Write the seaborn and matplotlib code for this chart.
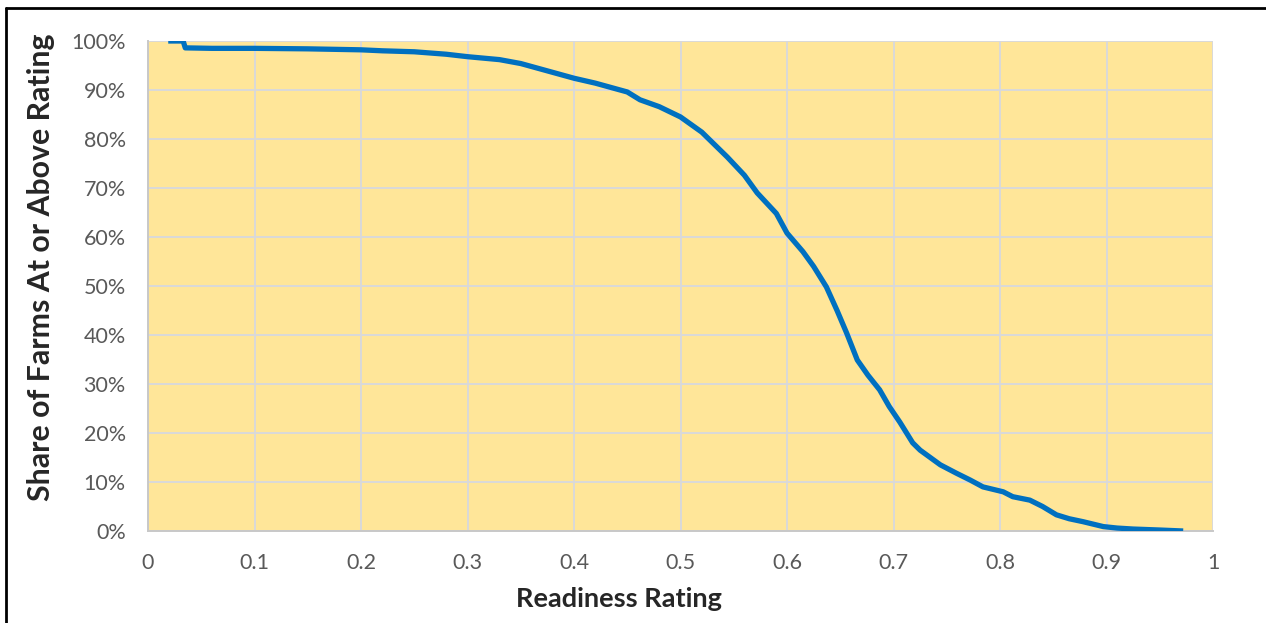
import numpy as np
import pandas as pd
import matplotlib
matplotlib.use("Agg")
import matplotlib.pyplot as plt
import seaborn as sns
from matplotlib.ticker import PercentFormatter, MultipleLocator

# readiness rating vs share of farms at or above it
rating = [0.019, 0.033, 0.035, 0.06, 0.1, 0.15, 0.2, 0.22, 0.25, 0.28, 0.3,
          0.33, 0.35, 0.37, 0.4, 0.42, 0.45, 0.462, 0.48, 0.5, 0.52, 0.544,
          0.56, 0.572, 0.59, 0.6, 0.615, 0.625, 0.637, 0.647, 0.656, 0.666,
          0.676, 0.687, 0.696, 0.706, 0.718, 0.725, 0.744, 0.759, 0.772,
          0.784, 0.803, 0.812, 0.828, 0.84, 0.853, 0.865, 0.878, 0.897,
          0.91, 0.925, 0.95, 0.972]
share = [100.0, 100.0, 98.6, 98.5, 98.5, 98.4, 98.2, 98.0, 97.8, 97.3, 96.8,
         96.2, 95.4, 94.2, 92.4, 91.4, 89.6, 88.0, 86.6, 84.5, 81.4, 76.3,
         72.6, 69.0, 64.8, 60.8, 57.0, 54.0, 49.8, 45.0, 40.4, 34.9, 31.8,
         28.8, 25.4, 22.2, 18.0, 16.5, 13.5, 11.8, 10.4, 9.0, 8.0, 7.0, 6.3,
         5.0, 3.3, 2.5, 1.9, 0.9, 0.6, 0.4, 0.2, 0.0]

df = pd.DataFrame({"rating": rating, "share": share})

sns.set_theme(style="white")
plt.rcParams['font.family'] = ['Lato', 'DejaVu Sans']

fig = plt.figure(figsize=(12.66, 6.23), dpi=100)
ax = fig.add_axes([148/1266, 92/623, 1065/1266, 490/623])
ax.set_facecolor("#FFE699")

sns.lineplot(data=df, x="rating", y="share", ax=ax, color="#0070C0",
             linewidth=3.8, solid_capstyle="butt", zorder=3)

ax.set_xlim(0, 1)
ax.set_ylim(0, 100)
ax.yaxis.set_major_locator(MultipleLocator(10))
ax.yaxis.set_major_formatter(PercentFormatter(decimals=0))
ax.set_xticks(np.arange(0, 1.01, 0.1))
ax.set_xticklabels(["0", "0.1", "0.2", "0.3", "0.4", "0.5", "0.6", "0.7",
                    "0.8", "0.9", "1"])
ax.grid(True, color="#D9D9D9", linewidth=1.4, zorder=1)
ax.set_axisbelow(True)
for s in ["top", "right"]:
    ax.spines[s].set_visible(False)
for s in ["left", "bottom"]:
    ax.spines[s].set_color("#C8C8C8")
    ax.spines[s].set_linewidth(1.4)
ax.tick_params(axis="both", length=0, labelsize=15.5, labelcolor="#595959")
ax.tick_params(axis="x", pad=16)
ax.tick_params(axis="y", pad=16)

ax.set_xlabel("Readiness Rating", fontsize=19.5, fontweight="bold",
              labelpad=10, x=0.442)
ax.set_ylabel("Share of Farms At or Above Rating", fontsize=21.8,
              fontweight="bold", labelpad=12, y=0.539)

# chart frame, only top and left edges show in the crop
fig.add_artist(plt.Line2D([6/1266, 6/1266], [0, 1 - 8/623], color="black",
                          linewidth=2, transform=fig.transFigure))
fig.add_artist(plt.Line2D([6/1266, 1], [1 - 8/623, 1 - 8/623], color="black",
                          linewidth=2, transform=fig.transFigure))

plt.savefig("out.png", dpi=100)
plt.close()
